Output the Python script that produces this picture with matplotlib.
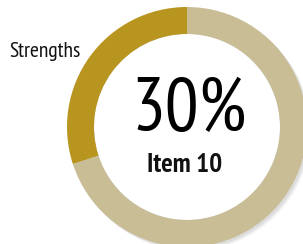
import matplotlib
matplotlib.use("Agg")
import matplotlib.pyplot as plt
from matplotlib.patches import Circle

# data
labels = ["Strengths", "Other"]
values = [30, 70]
colors = ["#B8951F", "#C9BD96"]
big_text = "30%"
item_text = "Item 10"

fig = plt.figure(figsize=(3.03, 2.44), dpi=100)
ax = fig.add_axes([0, 0, 1, 1])

# soft drop shadow behind the ring
for off, a in [(4, 0.05), (3, 0.07), (2, 0.09)]:
    ax.add_patch(Circle((187 + off, 117 - off), 120, color="#555555",
                        alpha=a, lw=0, zorder=0))

ax.pie(values, colors=colors, startangle=90, counterclock=True,
       center=(187, 117), radius=120,
       wedgeprops=dict(width=27, linewidth=0, zorder=2))
ax.add_patch(Circle((187, 117), 93, color="white", lw=0, zorder=1.5))

ax.set_xlim(0, 303)
ax.set_ylim(0, 244)
ax.set_aspect("equal")
ax.axis("off")

narrow = ["PT Sans Narrow", "DejaVu Sans"]
ax.text(45, 187, labels[0], ha="center", va="baseline", fontsize=15.5,
        family=narrow, color="#111111")
ax.text(189, 114, big_text, ha="center", va="baseline", fontsize=54,
        family=narrow, color="#000000")
ax.text(185, 72, item_text, ha="center", va="baseline", fontsize=19.5,
        family=narrow, fontweight="bold", color="#111111")

fig.savefig("out.png", dpi=100)
